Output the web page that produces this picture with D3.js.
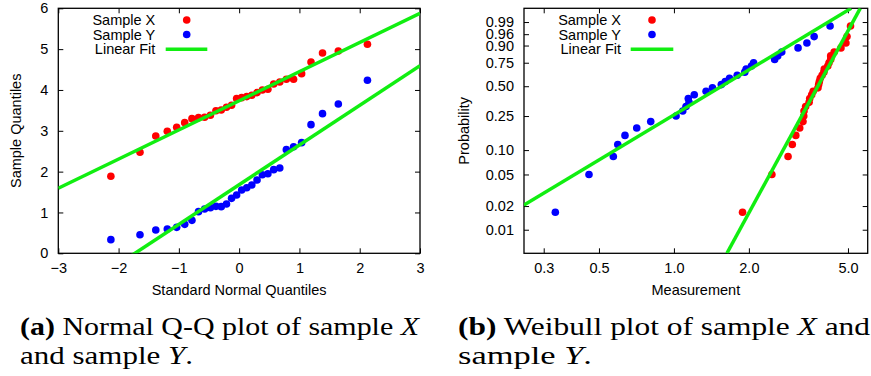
<!DOCTYPE html>
<html>
<head>
<meta charset="utf-8">
<script src="https://cdn.jsdelivr.net/npm/d3@7"></script>
<style>
  html, body { margin: 0; padding: 0; background: #fff; }
  svg { display: block; }
  .tick text { font-family: "Liberation Sans", Arial, sans-serif; font-size: 14.5px; fill: #000; }
  .lbl { font-family: "Liberation Sans", Arial, sans-serif; font-size: 14.5px; fill: #000; }
  .cap { font-family: "Liberation Serif", "Times New Roman", serif; font-size: 26px; fill: #000; }
</style>
</head>
<body>
<svg id="chart" width="871" height="376"></svg>
<script>
// ---------------- data ----------------
// theoretical standard normal quantiles, plotting positions (i-0.5)/30
const normalQuantiles = [-2.128, -1.645, -1.383, -1.192, -1.036, -0.903, -0.783, -0.674, -0.573, -0.477,
  -0.385, -0.297, -0.210, -0.126, -0.042, 0.042, 0.126, 0.210, 0.297, 0.385,
  0.477, 0.573, 0.674, 0.783, 0.903, 1.036, 1.192, 1.383, 1.645, 2.128];
const plotProbs = [0.01667, 0.05, 0.08333, 0.11667, 0.15, 0.18333, 0.21667, 0.25, 0.28333, 0.31667,
  0.35, 0.38333, 0.41667, 0.45, 0.48333, 0.51667, 0.55, 0.58333, 0.61667, 0.65,
  0.68333, 0.71667, 0.75, 0.78333, 0.81667, 0.85, 0.88333, 0.91667, 0.95, 0.98333];
// sorted samples
const sampleX = [1.886, 2.474, 2.873, 2.988, 3.086, 3.200, 3.298, 3.322, 3.330, 3.380,
  3.490, 3.510, 3.575, 3.624, 3.788, 3.812, 3.837, 3.869, 3.935, 4.000,
  4.016, 4.147, 4.196, 4.261, 4.261, 4.400, 4.686, 4.906, 4.955, 5.118];
const sampleY = [0.334, 0.456, 0.571, 0.595, 0.636, 0.709, 0.807, 1.020, 1.085, 1.118,
  1.150, 1.142, 1.207, 1.346, 1.428, 1.550, 1.607, 1.672, 1.795, 1.925,
  1.950, 2.048, 2.089, 2.538, 2.611, 2.710, 3.151, 3.420, 3.657, 4.237];
// linear fit end points
const qqFitX = [[-3, 1.592], [3, 5.878]];
const qqFitY = [[-3, -1.235], [3, 4.595]];
const wblFitX = [[1.632, 0.005], [5.60, 0.999]];
const wblFitY = [[0.25, 0.0206], [5.15, 0.999]];
// ticks
const qqXTicks = [-3, -2, -1, 0, 1, 2, 3];
const qqYTicks = [0, 1, 2, 3, 4, 5, 6];
const wblXTicks = [0.3, 0.5, 1.0, 2.0, 5.0];
const wblXLabels = ["0.3", "0.5", "1.0", "2.0", "5.0"];
const wblPTicks = [0.01, 0.02, 0.05, 0.10, 0.25, 0.50, 0.75, 0.90, 0.96, 0.99];
const wblPLabels = ["0.01", "0.02", "0.05", "0.10", "0.25", "0.50", "0.75", "0.90", "0.96", "0.99"];
const legendItems = ["Sample X", "Sample Y", "Linear Fit"];

// ---------------- drawing ----------------
const RED = "#ff0000", BLUE = "#0000ff", GREEN = "#11ee11";
const svg = d3.select("#chart");
svg.append("rect").attr("width", 871).attr("height", 376).attr("fill", "#fff");

const plotTop = 8.3, plotBottom = 253.3;
const wfun = p => Math.log(-Math.log(1 - p));

function frame(g, x0, x1, xScale, yScale, xTicks, xFmt, yTicks, yFmt, clipId) {
  g.append("g").attr("transform", `translate(0,${plotBottom})`)
    .call(d3.axisBottom(xScale).tickValues(xTicks).tickSize(-5).tickPadding(9).tickFormat(xFmt))
    .call(a => a.select(".domain").remove());
  g.append("g").attr("transform", `translate(0,${plotTop})`)
    .call(d3.axisTop(xScale).tickValues(xTicks).tickSize(-5).tickFormat(""))
    .call(a => a.select(".domain").remove());
  g.append("g").attr("transform", `translate(${x0},0)`)
    .call(d3.axisLeft(yScale).tickValues(yTicks).tickSize(-5).tickPadding(10).tickFormat(yFmt))
    .call(a => a.select(".domain").remove());
  g.append("g").attr("transform", `translate(${x1},0)`)
    .call(d3.axisRight(yScale).tickValues(yTicks).tickSize(-5).tickFormat(""))
    .call(a => a.select(".domain").remove());
  g.selectAll(".tick line").attr("stroke", "#000").attr("stroke-width", 1);
  g.append("rect").attr("x", x0).attr("y", plotTop).attr("width", x1 - x0).attr("height", plotBottom - plotTop)
    .attr("fill", "none").attr("stroke", "#000").attr("stroke-width", 1.3);
  g.append("clipPath").attr("id", clipId).append("rect")
    .attr("x", x0).attr("y", plotTop).attr("width", x1 - x0).attr("height", plotBottom - plotTop);
}

function legend(g, textX, markX, lineX0, lineX1) {
  const ys = [20, 34.5, 49.3];
  legendItems.forEach((t, i) => {
    g.append("text").attr("class", "lbl").attr("x", textX).attr("y", ys[i])
      .attr("dy", "0.35em").attr("text-anchor", "end").text(t);
  });
  g.append("circle").attr("cx", markX).attr("cy", ys[0]).attr("r", 3.8).attr("fill", RED);
  g.append("circle").attr("cx", markX).attr("cy", ys[1]).attr("r", 3.8).attr("fill", BLUE);
  g.append("line").attr("x1", lineX0).attr("x2", lineX1).attr("y1", ys[2]).attr("y2", ys[2])
    .attr("stroke", GREEN).attr("stroke-width", 3.5);
}

// ---- (a) Normal Q-Q ----
{
  const x0 = 58.3, x1 = 420;
  const x = d3.scaleLinear().domain([-3, 3]).range([x0, x1]);
  const y = d3.scaleLinear().domain([0, 6]).range([plotBottom, plotTop]);
  const g = svg.append("g");
  frame(g, x0, x1, x, y, qqXTicks, d3.format("d"), qqYTicks, d3.format("d"), "clipA");
  const plot = g.append("g").attr("clip-path", "url(#clipA)");
  plot.selectAll(".px").data(sampleX).join("circle").attr("class", "px")
    .attr("cx", (d, i) => x(normalQuantiles[i])).attr("cy", d => y(d)).attr("r", 3.8).attr("fill", RED);
  plot.selectAll(".py").data(sampleY).join("circle").attr("class", "py")
    .attr("cx", (d, i) => x(normalQuantiles[i])).attr("cy", d => y(d)).attr("r", 3.8).attr("fill", BLUE);
  const ln = d3.line().x(d => x(d[0])).y(d => y(d[1]));
  [qqFitX, qqFitY].forEach(f => plot.append("path").attr("d", ln(f))
    .attr("fill", "none").attr("stroke", GREEN).attr("stroke-width", 3.5));
  legend(g, 155.3, 186.7, 165.7, 207.3);
  g.append("text").attr("class", "lbl").attr("x", (x0 + x1) / 2).attr("y", 295)
    .attr("text-anchor", "middle").text("Standard Normal Quantiles");
  g.append("text").attr("class", "lbl").attr("transform", `translate(21,${(plotTop + plotBottom) / 2}) rotate(-90)`)
    .attr("text-anchor", "middle").text("Sample Quantiles");
}

// ---- (b) Weibull ----
{
  const x0 = 524, x1 = 867.7;
  const x = d3.scaleLog().domain([0.25, 6]).range([x0, x1]);
  const y = d3.scaleLinear().domain([wfun(0.005), wfun(0.999)]).range([plotBottom, plotTop]);
  const g = svg.append("g");
  frame(g, x0, x1, x, y, wblXTicks, (d) => wblXLabels[wblXTicks.indexOf(d)],
    wblPTicks.map(wfun), (d, i) => wblPLabels[i], "clipB");
  const plot = g.append("g").attr("clip-path", "url(#clipB)");
  plot.selectAll(".wx").data(sampleX).join("circle").attr("class", "wx")
    .attr("cx", d => x(d)).attr("cy", (d, i) => y(wfun(plotProbs[i]))).attr("r", 3.8).attr("fill", RED);
  plot.selectAll(".wy").data(sampleY).join("circle").attr("class", "wy")
    .attr("cx", d => x(d)).attr("cy", (d, i) => y(wfun(plotProbs[i]))).attr("r", 3.8).attr("fill", BLUE);
  const ln = d3.line().x(d => x(d[0])).y(d => y(wfun(d[1])));
  [wblFitX, wblFitY].forEach(f => plot.append("path").attr("d", ln(f))
    .attr("fill", "none").attr("stroke", GREEN).attr("stroke-width", 3.5));
  legend(g, 621, 652, 630.7, 673.3);
  g.append("text").attr("class", "lbl").attr("x", (x0 + x1) / 2).attr("y", 295)
    .attr("text-anchor", "middle").text("Measurement");
  g.append("text").attr("class", "lbl").attr("transform", `translate(469,${(plotTop + plotBottom) / 2}) rotate(-90)`)
    .attr("text-anchor", "middle").text("Probability");
}

// ---- captions ----
function caption(x, y, len, parts) {
  const t = svg.append("text").attr("class", "cap").attr("x", x).attr("y", y);
  if (len) t.attr("textLength", len).attr("lengthAdjust", "spacingAndGlyphs");
  parts.forEach(p => {
    const s = t.append("tspan").text(p.t);
    if (p.b) s.attr("font-weight", "bold");
    if (p.i) s.attr("font-style", "italic");
  });
}
caption(20, 335, 399, [{t: "(a)", b: true}, {t: " Normal Q-Q plot of sample "}, {t: "X", i: true}]);
caption(20, 364, 173, [{t: "and sample "}, {t: "Y", i: true}, {t: "."}]);
caption(458, 335, 412, [{t: "(b)", b: true}, {t: " Weibull plot of sample "}, {t: "X", i: true}, {t: " and"}]);
caption(458, 364, 134, [{t: "sample "}, {t: "Y", i: true}, {t: "."}]);
</script>
</body>
</html>
